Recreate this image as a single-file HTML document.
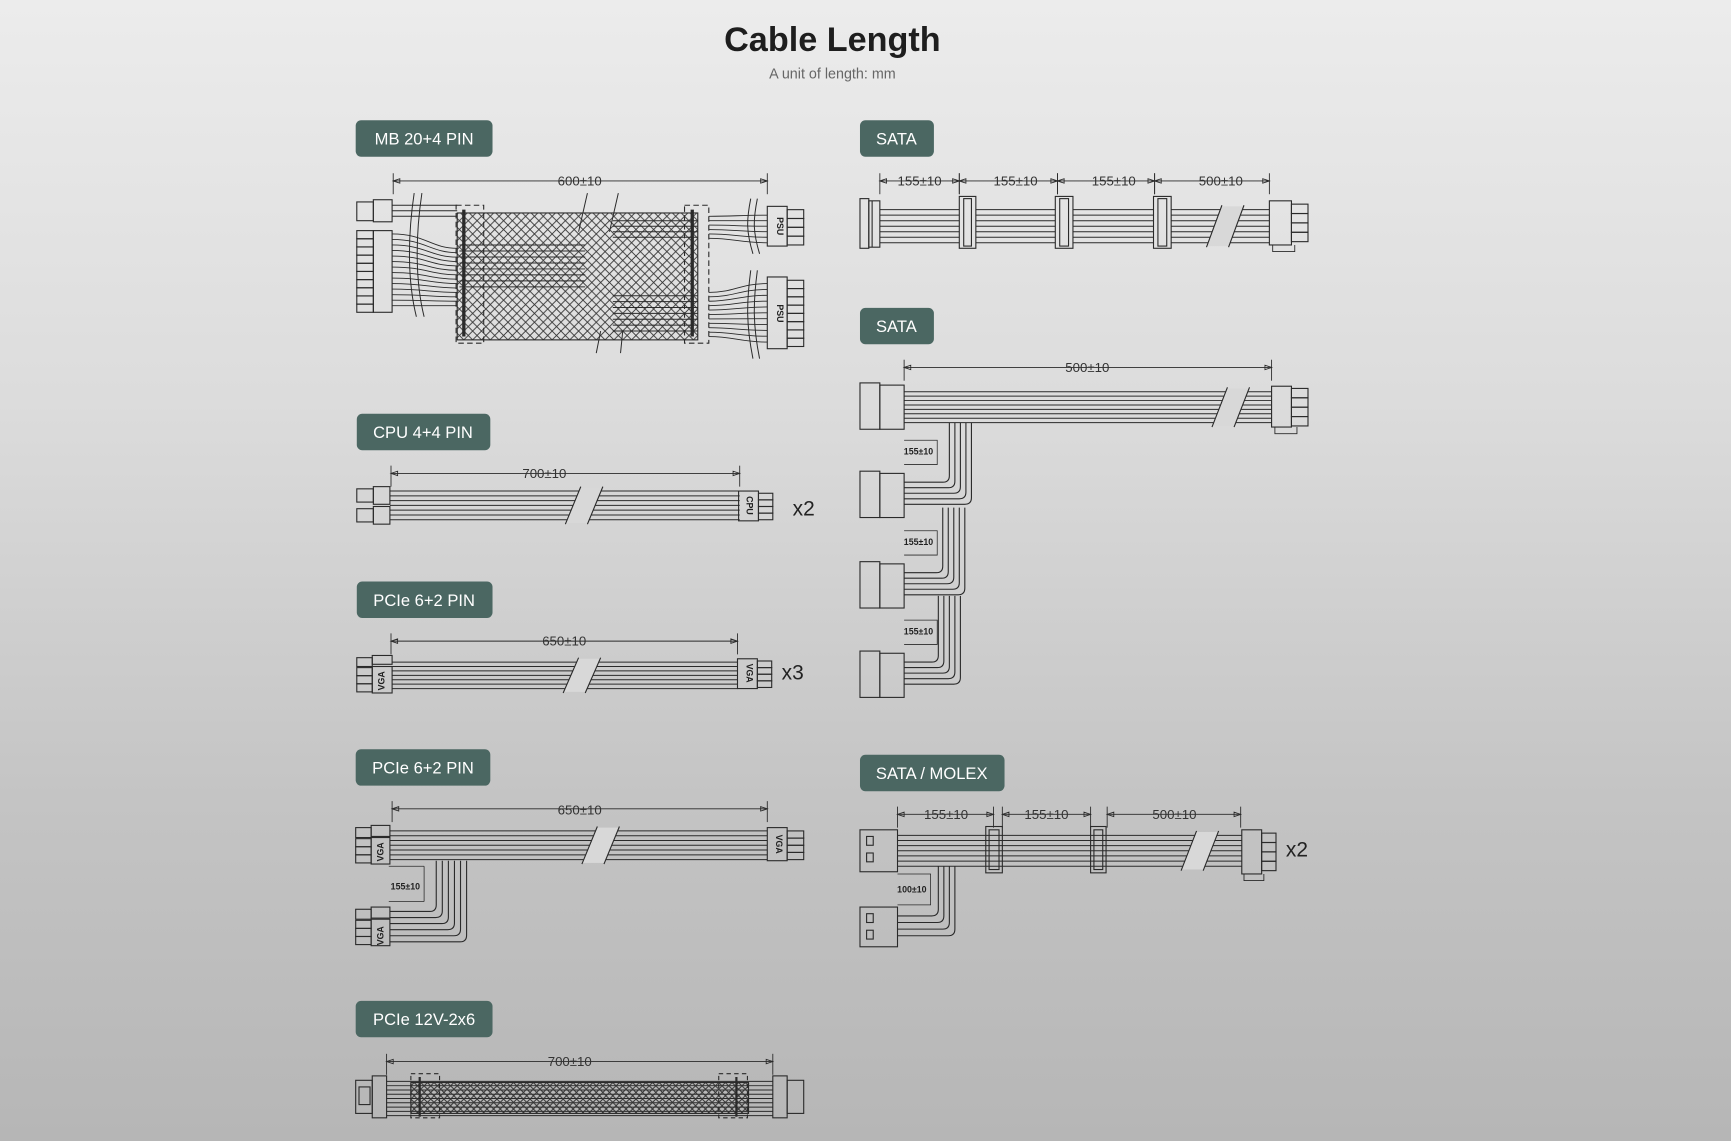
<!DOCTYPE html>
<html><head><meta charset="utf-8"><style>
html,body{margin:0;padding:0;width:1731px;height:1141px;overflow:hidden}
body{background:linear-gradient(180deg,#ececec 0%,#dcdcdc 35%,#c4c4c4 70%,#b6b6b6 100%)}
svg{display:block}
.lbl rect{fill:#4b6762}
.lbl text{fill:#fff;font:15px "Liberation Sans",sans-serif;text-anchor:middle}
.dim{font:12px "Liberation Sans",sans-serif;fill:#333;text-anchor:middle}
.sm{font:bold 8px "Liberation Sans",sans-serif;fill:#222;text-anchor:middle}
</style></head><body>
<svg id="s" width="1731" height="1141" viewBox="0 0 1568 1034" xmlns="http://www.w3.org/2000/svg">
<defs>
<pattern id="mesh" width="8" height="8" patternUnits="userSpaceOnUse">
<path d="M0 0L8 8M8 0L0 8" stroke="#333" stroke-width="0.8"/></pattern>
<pattern id="mesh2" width="6" height="6" patternUnits="userSpaceOnUse">
<path d="M0 0L6 6M6 0L0 6" stroke="#333" stroke-width="0.9"/></pattern>
</defs>
<text x="754" y="46" text-anchor="middle" style="font:bold 31px 'Liberation Sans',sans-serif;fill:#1e1e1e">Cable Length</text>
<text x="754" y="71" text-anchor="middle" style="font:13px 'Liberation Sans',sans-serif;fill:#666">A unit of length: mm</text>

<g class="lbl">
<rect x="322" y="109" width="124" height="33" rx="5"/><text x="384" y="131">MB 20+4 PIN</text>
<rect x="779" y="109" width="67" height="33" rx="5"/><text x="812" y="131">SATA</text>
<rect x="779" y="279" width="67" height="33" rx="5"/><text x="812" y="301">SATA</text>
<rect x="323" y="375" width="121" height="33" rx="5"/><text x="383" y="397">CPU 4+4 PIN</text>
<rect x="323" y="527" width="123" height="33" rx="5"/><text x="384" y="549">PCIe 6+2 PIN</text>
<rect x="322" y="679" width="122" height="33" rx="5"/><text x="383" y="701">PCIe 6+2 PIN</text>
<rect x="779" y="684" width="131" height="33" rx="5"/><text x="844" y="706">SATA / MOLEX</text>
<rect x="322" y="907" width="124" height="33" rx="5"/><text x="384" y="929">PCIe 12V-2x6</text>
</g>

<g id="draw" fill="none" stroke="#2a2a2a" stroke-width="1"></g>

<g>
<text class="dim" x="525" y="168">600±10</text>
<text class="dim" x="493" y="433">700±10</text>
<text class="dim" x="511" y="585">650±10</text>
<text class="dim" x="525" y="738">650±10</text>
<text class="dim" x="516" y="966">700±10</text>
<text class="dim" x="833" y="168">155±10</text>
<text class="dim" x="920" y="168">155±10</text>
<text class="dim" x="1009" y="168">155±10</text>
<text class="dim" x="1106" y="168">500±10</text>
<text class="dim" x="985" y="337">500±10</text>
<text class="dim" x="857" y="742">155±10</text>
<text class="dim" x="948" y="742">155±10</text>
<text class="dim" x="1064" y="742">500±10</text>
<text class="sm" x="832" y="412">155±10</text>
<text class="sm" x="832" y="494">155±10</text>
<text class="sm" x="832" y="575">155±10</text>
<text class="sm" x="367" y="806">155±10</text>
<text class="sm" x="826" y="809">100±10</text>
<text x="718" y="467" style="font:19px 'Liberation Sans',sans-serif;fill:#222">x2</text>
<text x="708" y="616" style="font:19px 'Liberation Sans',sans-serif;fill:#222">x3</text>
<text x="1165" y="776" style="font:19px 'Liberation Sans',sans-serif;fill:#222">x2</text>
<text class="sm" transform="translate(704,205) rotate(90)">PSU</text>
<text class="sm" transform="translate(704,284) rotate(90)">PSU</text>
<text class="sm" transform="translate(676,458) rotate(90)">CPU</text>
<text class="sm" transform="translate(348,617) rotate(-90)">VGA</text>
<text class="sm" transform="translate(676,610) rotate(90)">VGA</text>
<text class="sm" transform="translate(347,772) rotate(-90)">VGA</text>
<text class="sm" transform="translate(347,848) rotate(-90)">VGA</text>
<text class="sm" transform="translate(703,765) rotate(90)">VGA</text>
</g>
</svg>
<script>
var g=document.getElementById('draw'),NS='http://www.w3.org/2000/svg';
function el(t,a){var e=document.createElementNS(NS,t);for(var k in a)e.setAttribute(k,a[k]);g.appendChild(e);return e;}
function L(x1,y1,x2,y2,w){el('line',{x1:x1,y1:y1,x2:x2,y2:y2,'stroke-width':w||1});}
function R(x,y,w,h,f,d){var a={x:x,y:y,width:w,height:h};if(f)a.fill=f;if(d)a['stroke-dasharray']=d;el('rect',a);}
function P(d,w){el('path',{d:d,'stroke-width':w||1});}
function dim(x1,x2,y){L(x1,y,x2,y,0.8);L(x1,y-7,x1,y+12,0.8);L(x2,y-7,x2,y+12,0.8);
 P('M'+x1+' '+y+'l6 -2v4z M'+x2+' '+y+'l-6 -2v4z',0.8);}
function wires(x1,x2,y1,y2,n){for(var i=0;i<n;i++){var y=y1+(y2-y1)*i/(n-1);L(x1,y,x2,y,0.9);}}
function brk(x,y1,y2){var bg='#d8d8d8';el('polygon',{points:(x)+','+(y2+3)+' '+(x+14)+','+(y1-3)+' '+(x+34)+','+(y1-3)+' '+(x+20)+','+(y2+3),fill:bg,stroke:'none'});
 L(x,y2+4,x+14,y1-4);L(x+20,y2+4,x+34,y1-4);}
function pins(x,y,h,n,len){for(var i=0;i<n;i++){R(x,y+i*h/n,len,h/n);}}
// MB
dim(356,695,164);
R(323,183,15,17);R(338,181,17,20);
pins(323,209,74,10,15);R(338,209,17,74);
wires(355,414,186,196,3);
for(var i=0;i<14;i++){var y=212+i*5;P('M355 '+y+'C385 '+y+' 390 '+(225+i*4)+' 414 '+(225+i*4),0.8);}
P('M375 175c-6 40 -6 80 2 112M382 175c-6 40 -6 80 2 112',0.9);
R(414,193,218,115,'url(#mesh)');
R(413,186,25,125,null,'5 3');R(620,186,22,125,null,'5 3');
L(420,190,420,305,3);L(627,190,627,305,3);
wires(416,530,222,260,8);wires(555,632,200,215,4);wires(555,632,268,300,7);
P('M532 175l-8 35M540 320l4 -20M560 175l-8 35M562 320l2 -20',0.9);
R(695,187,18,36);pins(713,190,32,4,15);
R(695,251,18,65);pins(713,254,60,8,15);
for(var i=0;i<6;i++){var y=195+i*5;P('M642 '+(196+i*4)+'C665 '+(196+i*4)+' 670 '+y+' 695 '+y,0.8);}
for(var i=0;i<11;i++){var y=257+i*5.3;P('M642 '+(265+i*4)+'C665 '+(265+i*4)+' 670 '+y+' 695 '+y,0.8);}
P('M680 180c-4 20 -4 30 2 50M686 180c-4 20 -4 30 2 50M680 245c-4 30 -4 50 2 80M686 245c-4 30 -4 50 2 80',0.9);
// CPU
dim(354,670,429);
R(323,443,15,12);R(338,441,15,16);R(323,461,15,12);R(338,459,15,16);
wires(353,670,445,471,7);brk(512,445,471);
R(669,445,18,27);pins(687,447,24,4,13);
// PCIe 1
dim(354,668,581);
R(323,596,14,8);R(337,594,18,8);pins(323,605,22,3,14);R(337,604,18,24);
wires(355,668,600,624,7);brk(510,600,624);
R(668,597,18,27);pins(686,599,24,4,13);
// PCIe 2
dim(355,695,733);
R(322,750,14,9);R(336,748,17,10);pins(322,760,22,3,14);R(336,759,17,24);
wires(353,695,753,779,7);brk(527,753,779);
R(695,750,18,30);pins(713,753,26,4,15);
R(322,824,14,9);R(336,822,17,10);pins(322,834,22,3,14);R(336,833,17,24);
for(var i=0;i<6;i++){var x=395+i*5.5,y=826+i*5.5;P('M353 '+y+'H'+(x-6)+'q6 0 6 -6V'+(780-0));}
P('M384 785V817M352 785H384M352 817H384',0.7);
// 12V-2x6
dim(350,700,962);
R(322,979,15,30);R(337,975,13,38);R(325,985,10,16);
R(700,975,13,38);R(713,979,15,30);
wires(350,700,980,1011,9);
R(372,981,306,28,'url(#mesh2)');
R(372,973,26,40,null,'4 3');R(651,973,26,40,null,'4 3');
L(380,976,380,1012,2);L(667,976,667,1012,2);
// SATA 1
var ts=[797,869,958,1046,1150];for(var i=0;i<4;i++)dim(ts[i],ts[i+1],164);
R(779,180,8,45);R(787,182,10,42);L(790,182,790,224);
[[869,884],[956,972],[1045,1061]].forEach(function(a){R(a[0],178,a[1]-a[0],47);R(a[0]+4,180,a[1]-a[0]-8,43);});
[[797,869],[884,956],[972,1045],[1061,1150]].forEach(function(a){wires(a[0],a[1],190,220,7);});
brk(1093,190,220);
R(1150,182,20,40);pins(1170,185,34,4,15);P('M1153 222v6h20v-6',0.8);
// SATA 2
dim(819,1152,333);
function sconn(y){R(779,y,18,42);R(797,y+2,22,40);}
sconn(347);sconn(427);sconn(509);sconn(590);
wires(819,1152,355,383,8);brk(1098,355,383);
R(1152,350,18,37);pins(1170,352,34,4,15);P('M1155 387v6h20v-6',0.8);
[[427,383,860],[509,460,854],[590,540,850]].forEach(function(b){
 for(var i=0;i<5;i++){var x=b[2]+i*5,y=b[0]+10+i*5;P('M819 '+y+'H'+(x-6)+'q6 0 6 -6V'+b[1]);}
 P('M819 '+(b[0]-28)+'H849V'+(b[0]-6)+'H819',0.7);});
// SATA / MOLEX
var tm=[813,900,994,1124];dim(813,900,738);dim(908,988,738);dim(1003,1124,738);
R(779,752,34,38);R(785,758,6,8);R(785,773,6,8);
R(779,822,34,36);R(785,828,6,8);R(785,843,6,8);
wires(813,1125,757,785,7);brk(1070,757,785);
[[893,908],[988,1002]].forEach(function(a){R(a[0],749,a[1]-a[0],42);R(a[0]+3,752,a[1]-a[0]-6,36);});
R(1125,752,18,40);pins(1143,755,34,4,13);P('M1127 792v6h18v-6',0.8);
for(var i=0;i<4;i++){var x=850+i*5,y=830+i*6;P('M813 '+y+'H'+(x-6)+'q6 0 6 -6V785');}
P('M813 792H843V820H813',0.7);
</script>
</body></html>
